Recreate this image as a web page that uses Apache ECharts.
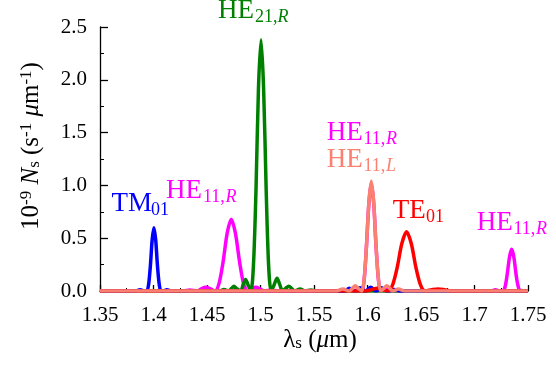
<!DOCTYPE html>
<html>
<head>
<meta charset="utf-8">
<script src="https://cdn.jsdelivr.net/npm/echarts@6/dist/echarts.min.js"></script>
<style>html,body{margin:0;padding:0;background:#fff}#c{width:556px;height:367px}</style>
</head>
<body>
<div id="c"></div>
<script>
// x-axis ticks (µm) and y-axis range
const xTicks = [1.35, 1.4, 1.45, 1.5, 1.55, 1.6, 1.65, 1.7, 1.75];
const yTicks = [0, 0.5, 1.0, 1.5, 2.0, 2.5];

// TM01 (blue)
const tm01 = [[1.35,0],[1.383,0],[1.3875,0.012],[1.3915,0],[1.3937,0],[1.3954,0.06],[1.3971,0.24],[1.3988,0.49],[1.4004,0.60],[1.402,0.49],[1.4037,0.24],[1.4054,0.06],[1.4071,0],[1.4095,0],[1.4125,0.012],[1.417,0],[1.578,0],[1.583,0.025],[1.588,0],[1.593,0.03],[1.598,0],[1.603,0.035],[1.608,0],[1.613,0.03],[1.618,0],[1.625,0.015],[1.632,0],[1.75,0]];
// HE11,R (magenta)
const he11R = [[1.35,0],[1.428,0],[1.434,0.01],[1.441,0],[1.4445,0.02],[1.449,0.035],[1.4535,0.02],[1.4574,0],[1.4612,0.07],[1.4651,0.28],[1.4689,0.55],[1.4727,0.68],[1.4765,0.55],[1.4804,0.28],[1.4842,0.07],[1.488,0],[1.4915,0.02],[1.4955,0.035],[1.4995,0.02],[1.5035,0],[1.51,0.008],[1.5165,0],[1.58,0],[1.5845,0.015],[1.589,0],[1.5945,0],[1.5968,0.1],[1.599,0.42],[1.6013,0.83],[1.6035,1.02],[1.6058,0.83],[1.608,0.42],[1.6103,0.1],[1.6125,0],[1.6175,0.015],[1.622,0],[1.716,0],[1.7195,0.012],[1.7235,0],[1.7265,0],[1.7286,0.04],[1.7306,0.16],[1.7327,0.32],[1.7347,0.395],[1.7368,0.32],[1.7388,0.16],[1.7409,0.04],[1.743,0],[1.75,0]];
// HE21,R (green)
const he21R = [[1.35,0],[1.457,0],[1.4615,0],[1.4658,0.015],[1.4705,0],[1.473,0.025],[1.4752,0.045],[1.4775,0.025],[1.4815,0],[1.4838,0.06],[1.486,0.11],[1.4883,0.06],[1.491,0],[1.4934,0.24],[1.4958,0.96],[1.4981,1.92],[1.5005,2.38],[1.5029,1.92],[1.5053,0.96],[1.5076,0.24],[1.51,0],[1.5128,0.06],[1.5155,0.12],[1.518,0.06],[1.5205,0],[1.5235,0.025],[1.5265,0.045],[1.529,0.025],[1.532,0],[1.537,0.02],[1.542,0],[1.547,0.01],[1.552,0],[1.75,0]];
// TE01 (red)
const te01 = [[1.35,0],[1.598,0],[1.6035,0.012],[1.609,0.025],[1.614,0.012],[1.619,0],[1.6234,0.056],[1.6278,0.225],[1.6321,0.45],[1.6365,0.56],[1.6409,0.45],[1.6452,0.225],[1.6496,0.056],[1.654,0],[1.66,0.012],[1.666,0.02],[1.672,0.012],[1.678,0],[1.75,0]];
// HE11,L (salmon)
const he11L = [[1.35,0],[1.566,0],[1.571,0],[1.577,0.02],[1.583,0],[1.5858,0.025],[1.5885,0.05],[1.5912,0.025],[1.5945,0],[1.5968,0.105],[1.599,0.42],[1.6013,0.84],[1.6035,1.04],[1.6058,0.84],[1.608,0.42],[1.6103,0.105],[1.6125,0],[1.6153,0.025],[1.618,0.05],[1.6208,0.025],[1.6235,0],[1.629,0.018],[1.635,0],[1.75,0]];

const FF = 'serif';
const C = {blue:'#0000ff', mag:'#ff00ff', green:'#008000', red:'#ff0000', salmon:'#fa8072'};

function line(name, data, color){
  return {name, type:'line', data, smooth:0.3, showSymbol:false, symbol:'none',
    lineStyle:{color, width:3.5}, itemStyle:{color}, z:2};
}
function fnt(size, italic){ return (italic ? 'italic ' : '') + size + 'px ' + FF; }

// annotation: main text + subscript (with optional italic letter)
function annot(x, y, sx, main, subNum, subIt, color){
  const els = [{type:'text', x:x, y:y, style:{text:main, font:fnt(27), fill:color, textAlign:'left', textVerticalAlign:'middle'}, z:10}];
  els.push({type:'text', x:sx, y:y+6.5, style:{text:subNum, font:fnt(18), fill:color, textAlign:'left', textVerticalAlign:'middle'}, z:10});
  if (subIt) {
    const w = subNum.length === 3 ? 22.5 : 18;
    els.push({type:'text', x:sx+w, y:y+6.5, style:{text:subIt, font:fnt(18,true), fill:color, textAlign:'left', textVerticalAlign:'middle'}, z:10});
  }
  return els;
}

const chart = echarts.init(document.getElementById('c'), null, {renderer:'canvas'});
const graphics = [].concat(
  annot(218, 11, 255, 'HE', '21,', 'R', C.green),
  annot(111.5, 204, 151, 'TM', '01', '', C.blue),
  annot(166, 191, 203, 'HE', '11,', 'R', C.mag),
  annot(326.7, 132.5, 363.5, 'HE', '11,', 'R', C.mag),
  annot(326.7, 160, 363.5, 'HE', '11,', 'L', C.salmon),
  annot(392.7, 211, 426, 'TE', '01', '', C.red),
  annot(476.7, 222.5, 513.5, 'HE', '11,', 'R', C.mag),
  [
    {type:'text', x:31, y:146, rotation:Math.PI/2, style:{
      text:'{n|10}{sup|-9}{n| }{i|N}{sub|s}{n| (s}{sup|-1}{n| }{i|\u03bc}{n|m}{sup|-1}{n|)}',
      font:fnt(25), fill:'#000', textAlign:'center', textVerticalAlign:'middle',
      rich:{n:{fontSize:25,fontFamily:FF,fill:'#000'}, i:{fontSize:25,fontFamily:FF,fontStyle:'italic',fill:'#000'},
            sup:{fontSize:17,fontFamily:FF,fill:'#000',verticalAlign:'top'}, sub:{fontSize:17,fontFamily:FF,fill:'#000',verticalAlign:'bottom'}}
    }, z:10},
    {type:'text', x:320, y:340, style:{
      text:'{n|\u03bb}{sub|s}{n| (}{i|\u03bc}{n|m)}',
      font:fnt(25), fill:'#000', textAlign:'center', textVerticalAlign:'middle',
      rich:{n:{fontSize:25,fontFamily:FF,fill:'#000'}, i:{fontSize:25,fontFamily:FF,fontStyle:'italic',fill:'#000'},
            sub:{fontSize:17,fontFamily:FF,fill:'#000',verticalAlign:'bottom'}}
    }, z:10}
  ]
);

chart.setOption({
  animation:false,
  backgroundColor:'#fff',
  textStyle:{fontFamily:FF},
  grid:{left:100, right:28, top:27, bottom:76},
  xAxis:{type:'value', min:xTicks[0], max:xTicks[xTicks.length-1], interval:0.05,
    axisLine:{show:true, onZero:false, lineStyle:{color:'#000', width:1.3}},
    axisTick:{show:true, inside:true, length:6, lineStyle:{color:'#000', width:1.3}},
    minorTick:{show:true, splitNumber:2, length:3, lineStyle:{color:'#000', width:1}},
    splitLine:{show:false},
    axisLabel:{color:'#000', fontSize:21, fontFamily:FF, margin:14,
      formatter:v=>String(parseFloat(v.toFixed(2)))}},
  yAxis:{type:'value', min:yTicks[0], max:yTicks[yTicks.length-1], interval:0.5,
    axisLine:{show:true, lineStyle:{color:'#000', width:1.3}},
    axisTick:{show:true, inside:true, length:8, lineStyle:{color:'#000', width:1.3}},
    minorTick:{show:true, splitNumber:2, length:4, lineStyle:{color:'#000', width:1}},
    splitLine:{show:false},
    axisLabel:{color:'#000', fontSize:21, fontFamily:FF, margin:13,
      formatter:v=>v.toFixed(1)}},
  series:[
    line('HE11,R', he11R, C.mag),
    line('HE21,R', he21R, C.green),
    line('TM01', tm01, C.blue),
    line('TE01', te01, C.red),
    line('HE11,L', he11L, C.salmon)
  ],
  graphic:graphics
});
</script>
</body>
</html>
